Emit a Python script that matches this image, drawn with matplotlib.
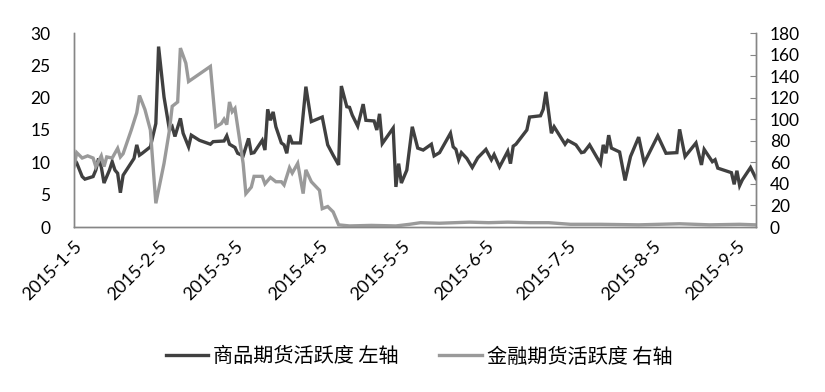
import matplotlib
matplotlib.use('Agg')
import matplotlib.pyplot as plt
import pandas as pd

# ---------------- data ----------------
commodity_dates = [
    '2015-01-05', '2015-01-06', '2015-01-08', '2015-01-09', '2015-01-12', '2015-01-13',
    '2015-01-14', '2015-01-15', '2015-01-16', '2015-01-18', '2015-01-19', '2015-01-20',
    '2015-01-21', '2015-01-22', '2015-01-23', '2015-01-25', '2015-01-27', '2015-01-28',
    '2015-01-29', '2015-01-30', '2015-02-02', '2015-02-04', '2015-02-05', '2015-02-07',
    '2015-02-09', '2015-02-10', '2015-02-11', '2015-02-13', '2015-02-14', '2015-02-16',
    '2015-02-17', '2015-02-20', '2015-02-24', '2015-02-25', '2015-03-01', '2015-03-02',
    '2015-03-03', '2015-03-05', '2015-03-06', '2015-03-08', '2015-03-10', '2015-03-11',
    '2015-03-12', '2015-03-15', '2015-03-16', '2015-03-17', '2015-03-18', '2015-03-19',
    '2015-03-20', '2015-03-22', '2015-03-23', '2015-03-24', '2015-03-25', '2015-03-26',
    '2015-03-29', '2015-03-31', '2015-04-02', '2015-04-06', '2015-04-08', '2015-04-10',
    '2015-04-12', '2015-04-13', '2015-04-15', '2015-04-16', '2015-04-17', '2015-04-19',
    '2015-04-21', '2015-04-22', '2015-04-25', '2015-04-26', '2015-04-27', '2015-04-28',
    '2015-04-30', '2015-05-02', '2015-05-03', '2015-05-04', '2015-05-05', '2015-05-07',
    '2015-05-09', '2015-05-11', '2015-05-13', '2015-05-16', '2015-05-17', '2015-05-19',
    '2015-05-23', '2015-05-24', '2015-05-25', '2015-05-26', '2015-05-27', '2015-05-29',
    '2015-05-31', '2015-06-02', '2015-06-05', '2015-06-07', '2015-06-08', '2015-06-10',
    '2015-06-13', '2015-06-14', '2015-06-15', '2015-06-16', '2015-06-20', '2015-06-21',
    '2015-06-25', '2015-06-26', '2015-06-27', '2015-06-29', '2015-06-30', '2015-07-04',
    '2015-07-05', '2015-07-08', '2015-07-10', '2015-07-11', '2015-07-13', '2015-07-17',
    '2015-07-18', '2015-07-19', '2015-07-20', '2015-07-21', '2015-07-24', '2015-07-26',
    '2015-07-28', '2015-07-31', '2015-08-02', '2015-08-07', '2015-08-10', '2015-08-14',
    '2015-08-15', '2015-08-17', '2015-08-21', '2015-08-23', '2015-08-24', '2015-08-27',
    '2015-08-28', '2015-08-29', '2015-09-03', '2015-09-04', '2015-09-05', '2015-09-06',
    '2015-09-07', '2015-09-10', '2015-09-12',
]
commodity_values = [
    10.6, 9.9, 7.8, 7.4, 7.8, 8.8,
    10.6, 9.3, 6.8, 8.8, 10.1, 8.8,
    8.3, 5.3, 8.0, 9.3, 10.6, 12.7,
    11.1, 11.4, 12.4, 16.0, 27.9, 20.1,
    15.0, 15.5, 14.0, 16.8, 14.5, 12.4,
    14.2, 13.4, 12.8, 13.2, 13.3, 14.1,
    12.8, 12.3, 11.4, 11.0, 13.7, 11.4,
    11.5, 13.4, 11.9, 18.2, 16.5, 17.8,
    15.5, 13.0, 12.7, 11.4, 14.2, 13.0,
    13.0, 21.7, 16.3, 17.0, 12.7, 11.1,
    9.6, 21.8, 18.6, 18.5, 17.3, 15.6,
    19.0, 16.5, 16.4, 15.0, 17.5, 12.9,
    14.1, 15.3, 6.2, 9.8, 6.8, 8.8,
    15.5, 12.2, 11.9, 12.8, 11.0, 11.5,
    14.5, 12.4, 12.0, 10.4, 11.5, 10.6,
    9.2, 10.7, 12.0, 10.4, 11.2, 9.3,
    11.7, 9.8, 12.5, 12.8, 15.0, 17.0,
    17.2, 18.2, 20.9, 14.5, 15.5, 12.8,
    13.4, 12.7, 11.5, 11.6, 12.7, 9.8,
    12.7, 11.4, 14.2, 12.2, 11.6, 7.2,
    10.9, 13.9, 9.9, 14.1, 11.4, 11.5,
    15.1, 10.9, 13.0, 9.6, 12.0, 10.1,
    10.4, 9.1, 8.4, 6.6, 8.7, 6.4,
    7.3, 9.2, 7.5,
]

financial_dates = [
    '2015-01-05', '2015-01-06', '2015-01-08', '2015-01-10', '2015-01-12', '2015-01-13',
    '2015-01-15', '2015-01-16', '2015-01-17', '2015-01-19', '2015-01-21', '2015-01-22',
    '2015-01-23', '2015-01-26', '2015-01-28', '2015-01-29', '2015-01-31', '2015-02-02',
    '2015-02-04', '2015-02-07', '2015-02-09', '2015-02-10', '2015-02-12', '2015-02-13',
    '2015-02-15', '2015-02-16', '2015-02-24', '2015-02-26', '2015-02-28', '2015-03-01',
    '2015-03-02', '2015-03-03', '2015-03-04', '2015-03-05', '2015-03-07', '2015-03-08',
    '2015-03-09', '2015-03-11', '2015-03-12', '2015-03-14', '2015-03-15', '2015-03-16',
    '2015-03-18', '2015-03-20', '2015-03-22', '2015-03-23', '2015-03-25', '2015-03-26',
    '2015-03-28', '2015-03-30', '2015-03-31', '2015-04-02', '2015-04-05', '2015-04-06',
    '2015-04-08', '2015-04-10', '2015-04-12', '2015-04-16', '2015-04-24', '2015-05-03',
    '2015-05-08', '2015-05-12', '2015-05-19', '2015-05-30', '2015-06-06', '2015-06-13',
    '2015-06-21', '2015-06-28', '2015-07-06', '2015-07-17', '2015-07-31', '2015-08-15',
    '2015-08-26', '2015-09-06', '2015-09-12',
]
financial_values = [
    56, 69, 64, 66, 64, 56,
    66, 56, 65, 64, 73, 65,
    68, 90, 106, 122, 109, 90,
    22, 59, 90, 112, 116, 166,
    152, 135, 149, 93, 96, 100,
    95, 116, 107, 110, 76, 59,
    31, 37, 47, 47, 47, 40,
    46, 42, 42, 39, 55, 50,
    59, 31, 53, 42, 34, 17,
    19, 14, 2, 1, 1.5, 1,
    2.5, 4, 3.5, 4.5, 4, 4.5,
    4, 4, 2.5, 2.5, 2, 3,
    2, 2.5, 2,
]

x_tick_labels = ['2015-1-5', '2015-2-5', '2015-3-5', '2015-4-5', '2015-5-5',
                 '2015-6-5', '2015-7-5', '2015-8-5', '2015-9-5']
left_ticks = [0, 5, 10, 15, 20, 25, 30]
right_ticks = [0, 20, 40, 60, 80, 100, 120, 140, 160, 180]
legend_labels = ['商品期货活跃度 左轴', '金融期货活跃度 右轴']

# ---------------- style ----------------
plt.rcParams['font.family'] = ['Lato', 'Noto Sans CJK SC', 'DejaVu Sans']
axis_grey = '#868686'
dark = '#404040'
light = '#9a9a9a'

fig = plt.figure(figsize=(8.25, 3.92), dpi=100)
ax = fig.add_axes([74 / 825, 1 - 227 / 392, (756 - 74) / 825, (227 - 33) / 392])
ax2 = ax.twinx()

cd = pd.to_datetime(commodity_dates)
fd = pd.to_datetime(financial_dates)
l1, = ax.plot(cd, commodity_values, color=dark, lw=2.4, solid_joinstyle='miter')
l2, = ax2.plot(fd, financial_values, color=light, lw=2.4, solid_joinstyle='miter')

ax.set_xlim(pd.Timestamp('2015-01-05'), pd.Timestamp('2015-09-12'))
ax.set_ylim(0, 30)
ax2.set_ylim(0, 180)
ax.set_yticks(left_ticks)
ax2.set_yticks(right_ticks)

ticks = pd.to_datetime(x_tick_labels)
ax.set_xticks(ticks)
ax.set_xticklabels(x_tick_labels, rotation=45, ha='right', rotation_mode='anchor',
                   fontsize=13)

for a in (ax, ax2):
    for s in a.spines.values():
        s.set_color(axis_grey)
        s.set_linewidth(1.0)
    a.spines['top'].set_visible(False)
ax.tick_params(axis='y', length=0, labelsize=12.5, pad=17)
ax.tick_params(axis='x', length=0, pad=8)
ax2.tick_params(axis='y', direction='in', length=4, color=axis_grey, labelsize=12.5, pad=10)

fig.legend([l1, l2], legend_labels, loc='center', ncol=2,
           bbox_to_anchor=(0.508, 1 - 357 / 392), frameon=False,
           prop={'family': ['Noto Sans CJK SC', 'DejaVu Sans'], 'size': 14.5},
           handlelength=2.1, handletextpad=0.25, columnspacing=2.0)

fig.savefig('out.png', dpi=100)
